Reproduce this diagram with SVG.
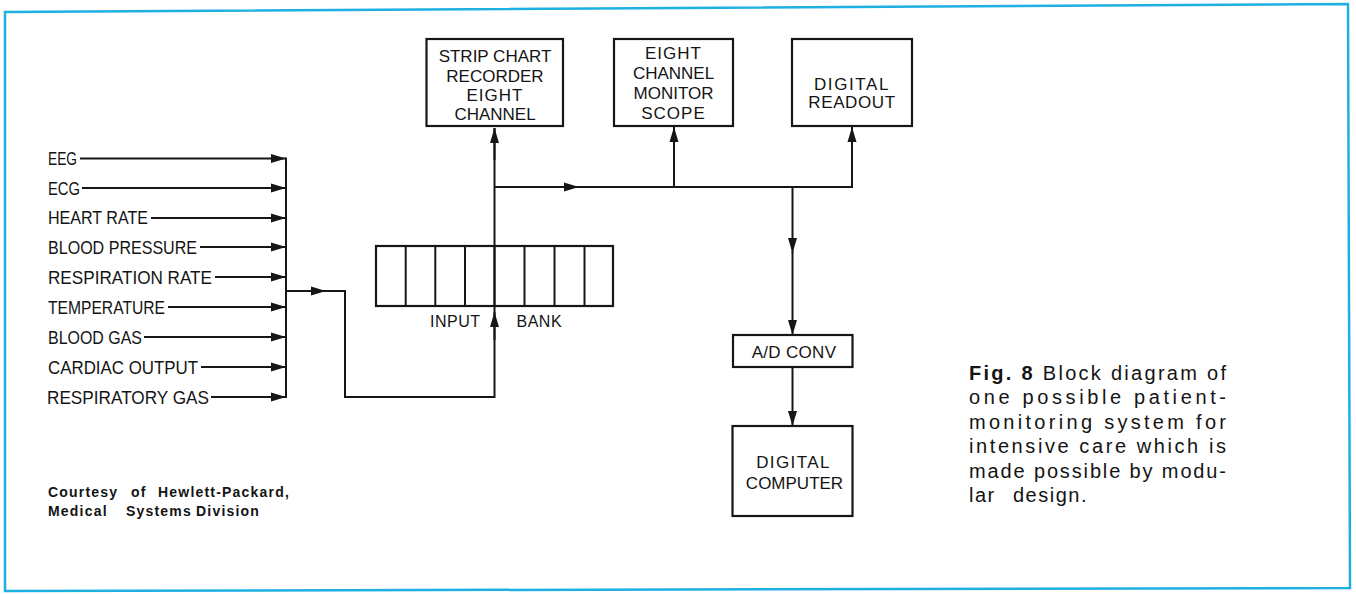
<svg xmlns="http://www.w3.org/2000/svg" width="1356" height="594" viewBox="0 0 1356 594">
<defs>
<style>
.bg{fill:#fff}
.frame{fill:none;stroke:#1fb0e2;stroke-width:2.5}
.box{fill:#fff;stroke:#161616;stroke-width:2.2}
.ln{fill:none;stroke:#161616;stroke-width:2}
.lbl{font-family:"Liberation Sans",Arial,sans-serif;font-size:18.5px;fill:#141414}
.bk{font-family:"Liberation Sans",Arial,sans-serif;font-size:16px;letter-spacing:0.5px;fill:#141414}
.bl{font-family:"Liberation Sans",Arial,sans-serif;font-size:17px;fill:#141414;text-anchor:middle}
.cap{font-family:"Liberation Sans",Arial,sans-serif;font-size:20px;fill:#141414}
.src{font-family:"Liberation Sans",Arial,sans-serif;font-size:14px;font-weight:bold;fill:#141414;letter-spacing:1.2px}
</style>
<marker id="ah" markerUnits="userSpaceOnUse" markerWidth="16" markerHeight="10" refX="15" refY="5" orient="auto">
<path d="M0,0.5 L15,5 L0,9.5 Z" fill="#161616"/>
</marker>
</defs>
<rect class="bg" x="0" y="0" width="1356" height="594"/>
<path class="frame" d="M5,12 L1348,4 L1350,588 L5,591 Z"/>

<g id="inputs">
<text class="lbl" x="48" y="165" textLength="29" lengthAdjust="spacingAndGlyphs">EEG</text>
<text class="lbl" x="48" y="194.5" textLength="32" lengthAdjust="spacingAndGlyphs">ECG</text>
<text class="lbl" x="48" y="224" textLength="100" lengthAdjust="spacingAndGlyphs">HEART RATE</text>
<text class="lbl" x="48" y="253.5" textLength="149" lengthAdjust="spacingAndGlyphs">BLOOD PRESSURE</text>
<text class="lbl" x="48" y="283.5" textLength="164" lengthAdjust="spacingAndGlyphs">RESPIRATION RATE</text>
<text class="lbl" x="48" y="313.5" textLength="117" lengthAdjust="spacingAndGlyphs">TEMPERATURE</text>
<text class="lbl" x="48" y="343.5" textLength="94" lengthAdjust="spacingAndGlyphs">BLOOD GAS</text>
<text class="lbl" x="48" y="373.5" textLength="150" lengthAdjust="spacingAndGlyphs">CARDIAC OUTPUT</text>
<text class="lbl" x="47" y="403.5" textLength="162" lengthAdjust="spacingAndGlyphs">RESPIRATORY GAS</text>
</g>

<g id="strip-chart">
<rect class="box" x="426.5" y="39" width="136.5" height="87"/>
<text class="bl" x="495" y="62">STRIP CHART</text>
<text class="bl" x="495" y="81.5">RECORDER</text>
<text class="bl" x="495" y="101" letter-spacing="1">EIGHT</text>
<text class="bl" x="495" y="120">CHANNEL</text>
</g>

<g id="monitor-scope">
<rect class="box" x="614" y="39" width="119" height="87"/>
<text class="bl" x="673.5" y="58.5" letter-spacing="1">EIGHT</text>
<text class="bl" x="673.5" y="78.5">CHANNEL</text>
<text class="bl" x="673.5" y="99">MONITOR</text>
<text class="bl" x="673.5" y="119" letter-spacing="1">SCOPE</text>
</g>

<g id="digital-readout">
<rect class="box" x="792" y="39" width="120" height="87"/>
<text class="bl" x="852" y="89.5" letter-spacing="1.6">DIGITAL</text>
<text class="bl" x="852" y="107.5" letter-spacing="0.6">READOUT</text>
</g>

<g id="input-bank">
<rect class="box" x="376" y="246" width="237" height="60"/>
<path class="ln" d="M405.7,246V306 M435.3,246V306 M465,246V306 M494.5,246V306 M524.5,246V306 M554.5,246V306 M584.5,246V306"/>
<text class="bk" x="430" y="327">INPUT</text>
<text class="bk" x="516.5" y="327">BANK</text>
</g>

<g id="ad-conv">
<rect class="box" x="733" y="335" width="119.5" height="32"/>
<text class="bl" x="794" y="358" letter-spacing="0.3">A/D CONV</text>
</g>

<g id="digital-computer">
<rect class="box" x="732.5" y="426" width="120" height="90"/>
<text class="bl" x="793.5" y="468" letter-spacing="1.4">DIGITAL</text>
<text class="bl" x="794.5" y="488.5">COMPUTER</text>
</g>

<g id="connectors">
<line class="ln" x1="80" y1="158.5" x2="286" y2="158.5" marker-end="url(#ah)"/>
<line class="ln" x1="82" y1="188" x2="286" y2="188" marker-end="url(#ah)"/>
<line class="ln" x1="151" y1="218" x2="286" y2="218" marker-end="url(#ah)"/>
<line class="ln" x1="200" y1="247" x2="286" y2="247" marker-end="url(#ah)"/>
<line class="ln" x1="215" y1="277" x2="286" y2="277" marker-end="url(#ah)"/>
<line class="ln" x1="168" y1="307" x2="286" y2="307" marker-end="url(#ah)"/>
<line class="ln" x1="144" y1="337" x2="286" y2="337" marker-end="url(#ah)"/>
<line class="ln" x1="201" y1="367" x2="286" y2="367" marker-end="url(#ah)"/>
<line class="ln" x1="211" y1="397" x2="286" y2="397" marker-end="url(#ah)"/>
<line class="ln" x1="286" y1="157.5" x2="286" y2="398"/>
<line class="ln" x1="286" y1="291" x2="326" y2="291" marker-end="url(#ah)"/>
<polyline class="ln" points="325,291 345,291 345,397 494.5,397 494.5,128"/>
<line class="ln" x1="494.5" y1="340" x2="494.5" y2="312" marker-end="url(#ah)"/>
<line class="ln" x1="494.5" y1="160" x2="494.5" y2="128" marker-end="url(#ah)"/>
<line class="ln" x1="494.5" y1="187" x2="579" y2="187" marker-end="url(#ah)"/>
<line class="ln" x1="578" y1="187" x2="853" y2="187"/>
<line class="ln" x1="674" y1="187" x2="674" y2="127" marker-end="url(#ah)"/>
<line class="ln" x1="852" y1="187" x2="852" y2="127" marker-end="url(#ah)"/>
<line class="ln" x1="792.5" y1="187" x2="792.5" y2="253" marker-end="url(#ah)"/>
<line class="ln" x1="792.5" y1="252" x2="792.5" y2="335" marker-end="url(#ah)"/>
<line class="ln" x1="792.5" y1="367" x2="792.5" y2="426" marker-end="url(#ah)"/>
</g>

<g id="caption">
<text class="cap" x="969" y="379.5" textLength="257" lengthAdjust="spacing"><tspan font-weight="bold">Fig. 8</tspan> Block diagram of</text>
<text class="cap" x="969" y="404" textLength="257" lengthAdjust="spacing">one possible patient-</text>
<text class="cap" x="969" y="428.5" textLength="257" lengthAdjust="spacing">monitoring system for</text>
<text class="cap" x="969" y="453" textLength="257" lengthAdjust="spacing">intensive care which is</text>
<text class="cap" x="969" y="477.5" textLength="257" lengthAdjust="spacing">made possible by modu-</text>
<text class="cap" x="969" y="501.5" letter-spacing="1.5">lar<tspan x="1013">design.</tspan></text>
</g>

<g id="credit">
<text class="src" x="48" y="496.5">Courtesy<tspan x="131">of</tspan><tspan x="158">Hewlett-Packard,</tspan></text>
<text class="src" x="48" y="515.5">Medical<tspan x="126">Systems</tspan><tspan x="196">Division</tspan></text>
</g>
</svg>
